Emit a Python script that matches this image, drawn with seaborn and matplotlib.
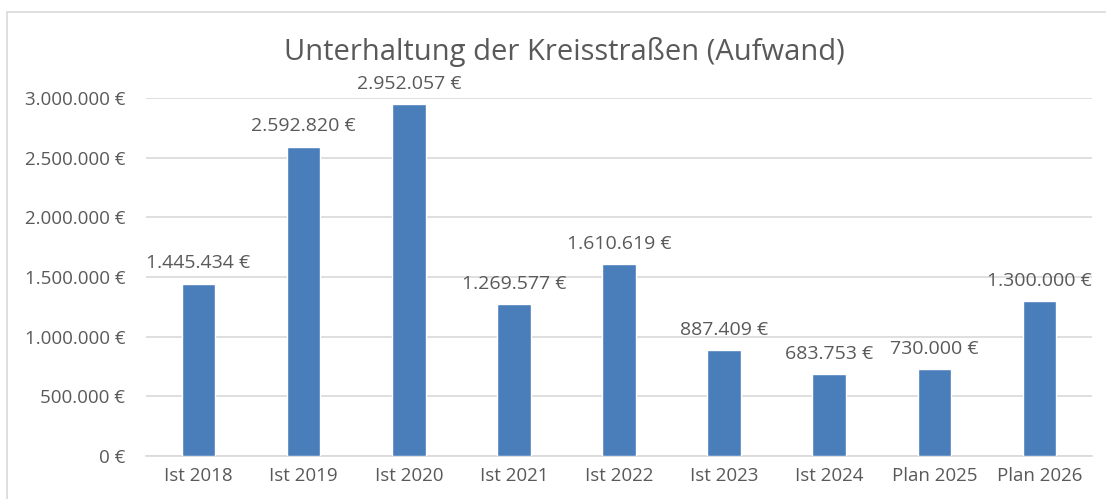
import matplotlib
matplotlib.use("Agg")
import matplotlib.pyplot as plt
import matplotlib.ticker as mticker
from matplotlib.patches import Rectangle
import pandas as pd
import seaborn as sns

# data
jahre = ["Ist 2018", "Ist 2019", "Ist 2020", "Ist 2021", "Ist 2022",
         "Ist 2023", "Ist 2024", "Plan 2025", "Plan 2026"]
aufwand = [1445434, 2592820, 2952057, 1269577, 1610619,
           887409, 683753, 730000, 1300000]
titel = "Unterhaltung der Kreisstraßen (Aufwand)"

grau = "#595959"
blau = "#4a7ebb"


def euro(v, pos=None):
    # German thousands separator
    return "{:,.0f} €".format(v).replace(",", ".")


sns.set_theme(style="white")
plt.rcParams['font.family'] = ['Open Sans', 'DejaVu Sans']

df = pd.DataFrame({"Jahr": jahre, "Aufwand": aufwand})

fig = plt.figure(figsize=(11.06, 4.99), dpi=100)
ax = fig.add_axes([146 / 1106, 43 / 499, 946 / 1106, 358 / 499])

sns.barplot(data=df, x="Jahr", y="Aufwand", color=blau, saturation=1,
            width=0.32, ax=ax, zorder=3)

ax.set_ylim(0, 3000000)
ax.yaxis.set_major_locator(mticker.MultipleLocator(500000))
ax.yaxis.set_major_formatter(mticker.FuncFormatter(euro))
ax.grid(axis="y", color="#d9d9d9", linewidth=1.2, zorder=0)
ax.set_axisbelow(True)
for s in ["top", "right", "left"]:
    ax.spines[s].set_visible(False)
ax.spines["bottom"].set_color("#d9d9d9")
ax.spines["bottom"].set_linewidth(1.2)
ax.set_xlabel("")
ax.set_ylabel("")
ax.tick_params(axis="both", length=0, labelsize=13.5, labelcolor=grau)
ax.tick_params(axis="x", pad=8)
ax.tick_params(axis="y", pad=15)

# value labels above the bars
for i, v in enumerate(aufwand):
    ax.annotate(euro(v), (i, v), xytext=(0, 8), textcoords="offset points",
                ha="center", va="bottom", fontsize=14, color=grau)

fig.text(564 / 1106, 1 - 52 / 499, titel, ha="center", va="center",
         fontsize=21, color=grau)

# outer chart frame, as in the Excel export
fig.patches.append(Rectangle((7 / 1106, -0.1), 1.2, 1.1 - 12 / 499,
                             transform=fig.transFigure, fill=False,
                             edgecolor="#d9d9d9", linewidth=1.2))

fig.savefig("out.png", dpi=100)
